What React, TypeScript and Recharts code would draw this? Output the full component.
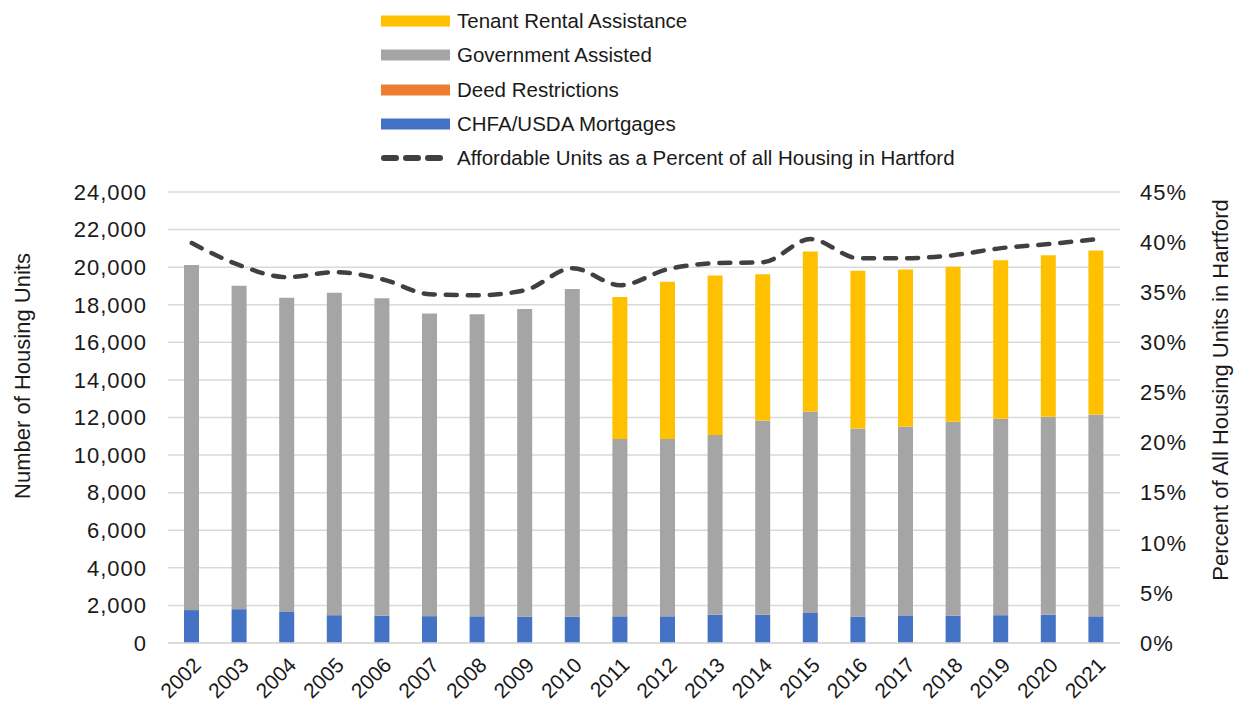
import {
  ComposedChart,
  Bar,
  Line,
  XAxis,
  YAxis,
  CartesianGrid,
  Legend,
} from "recharts";

// years on the x axis
const YEARS = [
  "2002", "2003", "2004", "2005", "2006", "2007", "2008", "2009", "2010", "2011",
  "2012", "2013", "2014", "2015", "2016", "2017", "2018", "2019", "2020", "2021",
];

// stacked segments, units
const CHFA_USDA = [1750, 1800, 1650, 1480, 1460, 1430, 1420, 1400, 1400, 1420, 1420, 1500, 1500, 1600, 1400, 1470, 1450, 1480, 1500, 1420];
const DEED = [0, 0, 0, 0, 0, 0, 0, 0, 0, 0, 0, 0, 0, 0, 0, 0, 0, 0, 0, 0];
const GOV_ASSISTED = [18370, 17210, 16720, 17160, 16880, 16100, 16070, 16380, 17440, 9440, 9440, 9570, 10340, 10720, 10010, 10050, 10320, 10450, 10540, 10740];
const TENANT_RENTAL = [0, 0, 0, 0, 0, 0, 0, 0, 0, 7550, 8370, 8490, 7780, 8520, 8400, 8350, 8250, 8440, 8600, 8730];

// affordable share of all housing, percent
const PCT_AFFORDABLE = [39.9, 37.7, 36.5, 37.0, 36.3, 34.8, 34.7, 35.2, 37.4, 35.7, 37.3, 37.9, 38.0, 40.3, 38.4, 38.4, 38.7, 39.4, 39.8, 40.3];

const LEFT_TICKS = [0, 2000, 4000, 6000, 8000, 10000, 12000, 14000, 16000, 18000, 20000, 22000, 24000];
const RIGHT_TICKS = [0, 5, 10, 15, 20, 25, 30, 35, 40, 45];

const YELLOW = "#FFC000";
const GRAY = "#A5A5A5";
const ORANGE = "#ED7D31";
const BLUE = "#4472C4";
const LINE = "#404040";

const AXIS_FONT = "'Liberation Sans', Arial, sans-serif";

const data = YEARS.map((year, i) => ({
  year,
  chfa: CHFA_USDA[i],
  deed: DEED[i],
  gov: GOV_ASSISTED[i],
  tenant: TENANT_RENTAL[i],
  pct: PCT_AFFORDABLE[i],
}));

const LEGEND_ITEMS = [
  { label: "Tenant Rental Assistance", color: YELLOW, kind: "bar" },
  { label: "Government Assisted", color: GRAY, kind: "bar" },
  { label: "Deed Restrictions", color: ORANGE, kind: "bar" },
  { label: "CHFA/USDA Mortgages", color: BLUE, kind: "bar" },
  { label: "Affordable Units as a Percent of all Housing in Hartford", color: LINE, kind: "line" },
];

function ChartLegend() {
  return (
    <div style={{ position: "relative", width: 1239, height: 180 }}>
      {LEGEND_ITEMS.map((item, i) => (
        <div
          key={item.label}
          style={{
            position: "absolute",
            left: 380,
            top: 5 + i * 34.25,
            height: 32,
            display: "flex",
            alignItems: "center",
          }}
        >
          <svg width={72} height={14} style={{ display: "block" }}>
            {item.kind === "bar" ? (
              <rect x={1} y={1.5} width={69} height={11} fill={item.color} />
            ) : (
              <line
                x1={4}
                y1={7}
                x2={66}
                y2={7}
                stroke={item.color}
                strokeWidth={6}
                strokeDasharray="12 10"
                strokeLinecap="round"
              />
            )}
          </svg>
          <span
            style={{
              marginLeft: 5,
              fontFamily: AXIS_FONT,
              fontSize: 20.5,
              color: "#1a1a1a",
              whiteSpace: "nowrap",
            }}
          >
            {item.label}
          </span>
        </div>
      ))}
    </div>
  );
}

function LeftTitle({ viewBox }: any) {
  const x = viewBox.x + 22;
  const y = 376;
  return (
    <text
      x={x}
      y={y}
      transform={`rotate(-90, ${x}, ${y})`}
      textAnchor="middle"
      dominantBaseline="central"
      fontFamily={AXIS_FONT}
      fontSize={22}
      fill="#1a1a1a"
    >
      Number of Housing Units
    </text>
  );
}

function RightTitle({ viewBox }: any) {
  const x = viewBox.x + 100;
  const y = 390;
  return (
    <text
      x={x}
      y={y}
      transform={`rotate(-90, ${x}, ${y})`}
      textAnchor="middle"
      dominantBaseline="central"
      fontFamily={AXIS_FONT}
      fontSize={22}
      fill="#1a1a1a"
    >
      Percent of All Housing Units in Hartford
    </text>
  );
}

const tickStyle = { fontFamily: AXIS_FONT, fontSize: 22, fill: "#1a1a1a", letterSpacing: 1 };

export default function App() {
  return (
    <div style={{ width: 1239, height: 705, background: "#fff" }}>
      <style>{"body{margin:0;}"}</style>
      <ComposedChart
        width={1239}
        height={705}
        data={data}
        margin={{ top: 192, right: 0, bottom: 0, left: 0 }}
      >
        <CartesianGrid vertical={false} stroke="#d9d9d9" strokeWidth={1.5} yAxisId="left" />
        <XAxis
          dataKey="year"
          height={62}
          interval={0}
          angle={-45}
          textAnchor="end"
          tickLine={false}
          tickSize={0}
          tickMargin={13}
          axisLine={{ stroke: "#d9d9d9", strokeWidth: 1.5 }}
          tick={{ fontFamily: AXIS_FONT, fontSize: 21, fill: "#1a1a1a" }}
        />
        <YAxis
          yAxisId="left"
          width={168}
          domain={[0, 24000]}
          ticks={LEFT_TICKS}
          tickFormatter={(v: number) => v.toLocaleString("en-US")}
          axisLine={false}
          tickLine={false}
          tickSize={0}
          tickMargin={21}
          tick={tickStyle}
          label={<LeftTitle />}
        />
        <YAxis
          yAxisId="right"
          orientation="right"
          width={119}
          domain={[0, 45]}
          ticks={RIGHT_TICKS}
          tickFormatter={(v: number) => `${v}%`}
          axisLine={false}
          tickLine={false}
          tickSize={0}
          tickMargin={20}
          tick={tickStyle}
          label={<RightTitle />}
        />
        <Legend
          layout="vertical"
          align="center"
          verticalAlign="middle"
          wrapperStyle={{ top: 0, left: 0, width: 1239 }}
          content={() => <ChartLegend />}
        />
        <Bar yAxisId="left" dataKey="chfa" name="CHFA/USDA Mortgages" stackId="u" fill={BLUE} barSize={15} isAnimationActive={false} />
        <Bar yAxisId="left" dataKey="deed" name="Deed Restrictions" stackId="u" fill={ORANGE} barSize={15} isAnimationActive={false} />
        <Bar yAxisId="left" dataKey="gov" name="Government Assisted" stackId="u" fill={GRAY} barSize={15} isAnimationActive={false} />
        <Bar yAxisId="left" dataKey="tenant" name="Tenant Rental Assistance" stackId="u" fill={YELLOW} barSize={15} isAnimationActive={false} />
        <Line
          yAxisId="right"
          dataKey="pct"
          name="Affordable Units as a Percent of all Housing in Hartford"
          type="monotone"
          stroke={LINE}
          strokeWidth={4.5}
          strokeDasharray="11 11"
          strokeLinecap="round"
          dot={false}
          activeDot={false}
          isAnimationActive={false}
        />
      </ComposedChart>
    </div>
  );
}
